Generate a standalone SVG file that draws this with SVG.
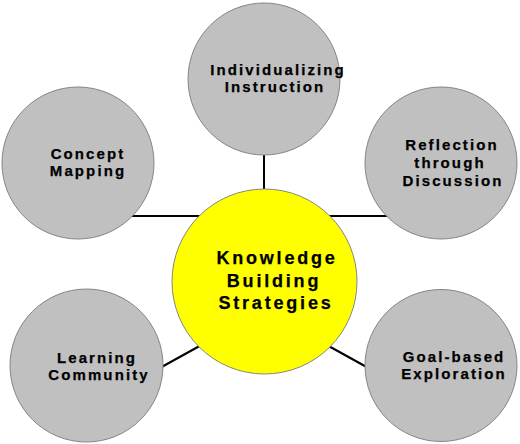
<svg xmlns="http://www.w3.org/2000/svg" width="520" height="444" viewBox="0 0 520 444">
<style>
.sat{fill:#c0c0c0;stroke:#858585;stroke-width:1}
.hub{fill:#ffff00;stroke:#858585;stroke-width:1}
.lbl{font-family:"Liberation Sans",Arial,sans-serif;font-weight:bold;font-size:15px;letter-spacing:2.1px;fill:#000;stroke:#000;stroke-width:0.25;text-anchor:middle}
.big{font-size:18px;letter-spacing:2.8px}
.con{stroke:#000;stroke-width:2;fill:none}
</style>
<rect width="520" height="444" fill="#fff"/>
<g id="connectors">
<line class="con" x1="264" y1="150" x2="264" y2="195"/>
<line class="con" x1="125" y1="216" x2="204" y2="216"/>
<line class="con" x1="325" y1="216" x2="393" y2="216"/>
<line class="con" x1="158" y1="369" x2="205" y2="343"/>
<line class="con" x1="325" y1="344" x2="372" y2="370"/>
</g>
<g id="node-center">
<circle class="hub" cx="264.5" cy="281.5" r="92.5"/>
<text class="lbl big" x="277" y="264">Knowledge</text>
<text class="lbl big" x="274" y="287">Building</text>
<text class="lbl big" x="276" y="309">Strategies</text>
</g>
<g id="node-individualizing">
<circle class="sat" cx="264" cy="79" r="76"/>
<text class="lbl" x="278" y="75">Individualizing</text>
<text class="lbl" x="275" y="92">Instruction</text>
</g>
<g id="node-concept">
<circle class="sat" cx="78" cy="163" r="76"/>
<text class="lbl" x="88" y="159">Concept</text>
<text class="lbl" x="88" y="176">Mapping</text>
</g>
<g id="node-reflection">
<circle class="sat" cx="441" cy="163" r="76"/>
<text class="lbl" x="452" y="150">Reflection</text>
<text class="lbl" x="450" y="168">through</text>
<text class="lbl" x="453" y="186">Discussion</text>
</g>
<g id="node-learning">
<circle class="sat" cx="86.5" cy="365.5" r="76.5"/>
<text class="lbl" x="97" y="363">Learning</text>
<text class="lbl" x="99" y="380">Community</text>
</g>
<g id="node-goal">
<circle class="sat" cx="441" cy="365.5" r="76"/>
<text class="lbl" x="454" y="362">Goal-based</text>
<text class="lbl" x="454" y="379">Exploration</text>
</g>
</svg>
